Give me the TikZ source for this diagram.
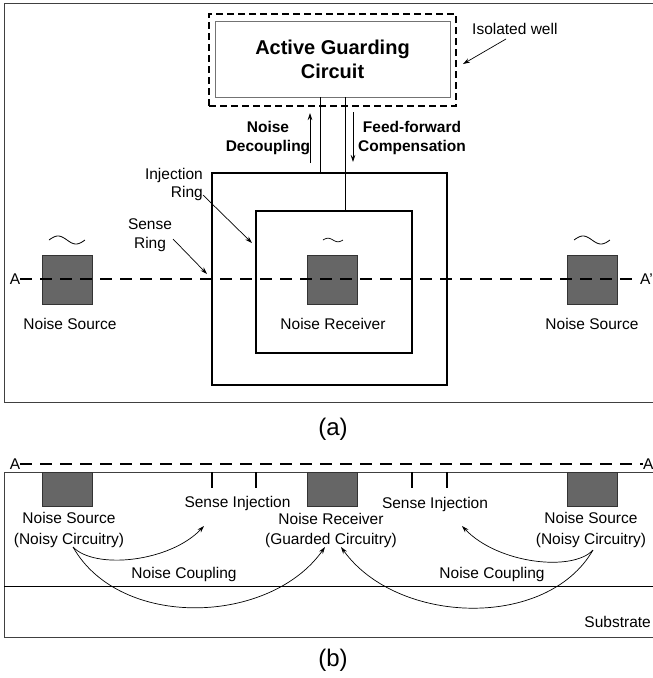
\documentclass[tikz,border=0pt]{standalone}
\usepackage{fontspec}
\setmainfont{Liberation Sans}
\usetikzlibrary{arrows.meta}
\begin{document}
\begin{tikzpicture}[x=1pt,y=-1pt,
  txt/.style={font=\fontsize{15.5}{20}\selectfont, inner sep=0pt, align=center},
  btxt/.style={font=\fontsize{15.5}{19}\selectfont\bfseries, inner sep=0pt, align=center},
  captxt/.style={font=\fontsize{24}{28}\selectfont, inner sep=0pt},
  frame/.style={draw=black!75, line width=0.9pt},
  ringbox/.style={draw=black, line width=2.6pt, inner sep=0pt},
  blk/.style={draw=black!80, fill=black!60, line width=0.9pt, inner sep=0pt},
  cutline/.style={dash pattern=on 12pt off 8pt, line width=1.5pt},
  arr/.style={-{Stealth[length=7pt,width=4.5pt]}, line width=0.7pt},
  wire/.style={line width=0.8pt},
  tick/.style={line width=2.6pt}]
\useasboundingbox (0,0) rectangle (653,678);

% ================= panel (a) =================
\draw[frame] (653,3) -- (4,3) -- (4,402) -- (653,402);

\node[draw, dash pattern=on 7pt off 4pt, line width=1.4pt, minimum width=247pt, minimum height=92pt, inner sep=0pt] (well) at (332.5,60) {};
\node[draw=black!55, line width=0.9pt, minimum width=235pt, minimum height=76pt, inner sep=0pt,
      font=\fontsize{20}{24}\selectfont\bfseries, align=center] (agc) at (332.5,59) {Active Guarding\\Circuit};

\node[txt, anchor=west] (iwtxt) at (472,29) {Isolated well};
\coordinate (iwa) at (506,39);
\coordinate (iwb) at (463,64);
\draw[arr] (iwa) -- (iwb);

\node[ringbox, minimum width=235pt, minimum height=212pt] (sense) at (329.5,279) {};
\node[ringbox, minimum width=156pt, minimum height=142pt] (inj) at (334,282) {};

\coordinate (xw1) at (320,0);
\coordinate (xw2) at (345,0);
\draw[wire] (agc.south -| xw1) -- (sense.north -| xw1);
\draw[wire] (agc.south -| xw2) -- (inj.north -| xw2);

\node[btxt] (ndtxt) at (268,138) {Noise\\Decoupling};
\node[btxt] (fftxt) at (412,138) {Feed-forward\\Compensation};
\coordinate (upa) at (310,163);
\coordinate (upb) at (310,113);
\coordinate (dna) at (353,112);
\coordinate (dnb) at (353,162);
\draw[arr] (upa) -- (upb);
\draw[arr] (dna) -- (dnb);

\node[txt, align=right, anchor=east, font=\fontsize{15.5}{18}\selectfont] (irtxt) at (203,184) {Injection\\Ring};
\coordinate (ira) at (203,195);
\coordinate (irb) at (252,243);
\draw[arr] (ira) -- (irb);

\node[txt, font=\fontsize{15.5}{19}\selectfont] (srtxt) at (150,235.5) {Sense\\Ring};
\coordinate (sra) at (173,239);
\coordinate (srb) at (207,274);
\draw[arr] (sra) -- (srb);

\node[blk, minimum width=50pt, minimum height=49pt] (nsA1) at (67,279.5) {};
\node[blk, minimum width=50pt, minimum height=49pt] (nrA) at (332,279.5) {};
\node[blk, minimum width=50pt, minimum height=49pt] (nsA2) at (592,279.5) {};

\draw[line width=0.8pt, domain=0:1, samples=40, smooth] plot ({49+36*\x},{240-4*sin(360*\x)});
\draw[line width=0.8pt, domain=0:1, samples=40, smooth] plot ({574+36*\x},{240-4*sin(360*\x)});
\draw[line width=0.7pt, domain=0:1, samples=30, smooth] plot ({323+20*\x},{240-1.8*sin(360*\x)});

\node[txt] (lA1) at (15,279) {A};
\node[txt, anchor=west] (lA2) at (640,279) {A'};
\draw[cutline] (lA1.east) -- (lA2.west);

\node[txt] (nsA1t) at (70,324) {Noise Source};
\node[txt] (nrAt) at (333,324) {Noise Receiver};
\node[txt] (nsA2t) at (592,324) {Noise Source};

\node[captxt] (capa) at (333,429) {(a)};

% ================= panel (b) =================
\node[txt] (lB1) at (15,464) {A};
\node[txt, anchor=west] (lB2) at (643,464) {A};
\draw[cutline] (lB1.east) -- (lB2.west);

\draw[frame] (653,472) -- (4,472) -- (4,637) -- (653,637);
\coordinate (subL) at (4,586);
\coordinate (subR) at (653,586);
\draw[wire] (subL) -- (subR);

\node[blk, minimum width=50pt, minimum height=34pt] (nsB1) at (67,489) {};
\node[blk, minimum width=50pt, minimum height=34pt] (nrB) at (332,489) {};
\node[blk, minimum width=50pt, minimum height=34pt] (nsB2) at (592,489) {};

\foreach \xx in {212,256,412,447}{
  \draw[tick] (\xx,472) -- (\xx,488);
}

\node[txt] (siL) at (237.5,503) {Sense Injection};
\node[txt] (siR) at (435,504) {Sense Injection};

\node[txt, font=\fontsize{15.5}{21}\selectfont] (nsB1t) at (69,529.5) {Noise Source\\(Noisy Circuitry)};
\node[txt, font=\fontsize{15.5}{19.5}\selectfont] (nrBt) at (331,530.5) {Noise Receiver\\(Guarded Circuitry)};
\node[txt, font=\fontsize{15.5}{21}\selectfont] (nsB2t) at (591,529.5) {Noise Source\\(Noisy Circuitry)};

\node[txt] (ncL) at (184,574) {Noise Coupling};
\node[txt] (ncR) at (492,574) {Noise Coupling};

\node[txt, anchor=east] (subtxt) at (651,622) {Substrate};

\coordinate (cL) at (73,547);
\coordinate (cR) at (593,550);
\coordinate (tSL) at (204,526);
\coordinate (tSR) at (462,526);
\coordinate (tRL) at (325,547);
\coordinate (tRR) at (341,547);
\draw[arr] (cL) .. controls (95,570) and (170,562) .. (tSL);
\draw[arr] (cL) .. controls (120,630) and (270,625) .. (tRL);
\draw[arr] (cR) .. controls (573,572) and (498,564) .. (tSR);
\draw[arr] (cR) .. controls (547,630) and (397,625) .. (tRR);

\node[captxt] (capb) at (333,660) {(b)};
\end{tikzpicture}
\end{document}
